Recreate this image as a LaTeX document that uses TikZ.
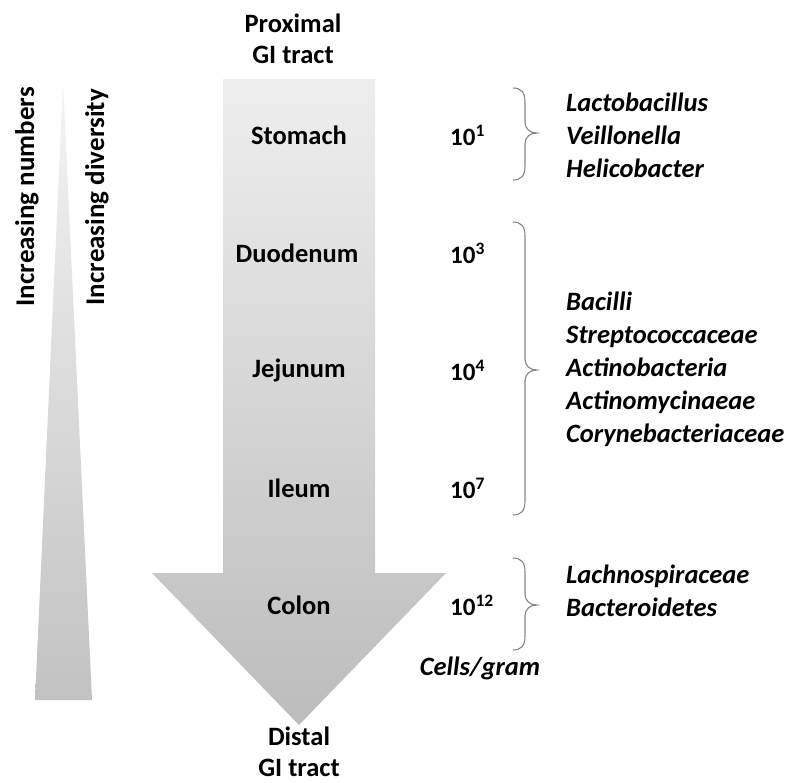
\documentclass[tikz,border=0pt]{standalone}
\usepackage{fontspec}
\setmainfont{Carlito}
\definecolor{arrtop}{HTML}{EEEEEE}
\definecolor{arrbot}{HTML}{BCBCBC}
\definecolor{tritop}{HTML}{F4F4F4}
\definecolor{tribot}{HTML}{C2C2C2}
\definecolor{brcol}{HTML}{858585}
\newcommand\mybrace[3]{%
  \draw[brc] (513,#1) .. controls (521,#1) and (525,#1+4) .. (525,#1+14)
    -- (525,#2-11) .. controls (525,#2-4) and (530,#2) .. (537,#2)
    .. controls (530,#2) and (525,#2+4) .. (525,#2+11)
    -- (525,#3-14) .. controls (525,#3-4) and (521,#3) .. (513,#3);}
\begin{document}
\begin{tikzpicture}[x=1pt,y=-1pt,
  lbl/.style={font=\bfseries\fontsize{26.5}{31}\selectfont, inner sep=0pt, align=center},
  bact/.style={font=\bfseries\itshape\fontsize{26.5}{33}\selectfont, align=left, anchor=west, inner sep=0pt},
  num/.style={font=\bfseries\fontsize{25}{30}\selectfont, anchor=west, inner sep=0pt},
  side/.style={font=\bfseries\fontsize{27}{30}\selectfont, inner sep=0pt, rotate=90, anchor=base east},
  brc/.style={draw=brcol, line width=1.1pt}]
\useasboundingbox (0,0) rectangle (787,782);
% left triangle
\shade[top color=tritop, bottom color=tribot] (63,82) -- (92,700) -- (35,700) -- cycle;
% big arrow
\shade[top color=arrtop, bottom color=arrbot] (223,79) -- (375,79) -- (375,573) -- (446,573) -- (299,725) -- (152,573) -- (223,573) -- cycle;
% side texts
\node[side] (num) at (34,87) {Increasing numbers};
\node[side] (div) at (104,89) {Increasing diversity};
% top / bottom labels
\node[lbl, anchor=north] (prox) at (293,14) {Proximal\\GI tract};
\node[lbl, anchor=south] (dist) at (299,777) {Distal\\GI tract};
% organ labels
\node[lbl] (stom) at (299,135) {Stomach};
\node[lbl] (duod) at (297,253) {Duodenum};
\node[lbl] (jeju) at (299,370) {Jejunum};
\node[lbl] (ileu) at (299,488) {Ileum};
\node[lbl] (colo) at (299,605) {Colon};
% numbers
\node[num] (n1) at (450,135) {10\textsuperscript{1}};
\node[num] (n3) at (450,253) {10\textsuperscript{3}};
\node[num] (n4) at (450,370) {10\textsuperscript{4}};
\node[num] (n7) at (450,488) {10\textsuperscript{7}};
\node[num] (n12) at (450,605) {10\textsuperscript{12}};
\node[lbl, font=\bfseries\itshape\fontsize{26.5}{31}\selectfont] (cells) at (480,668) {Cells/gram};
% braces
\mybrace{88}{133}{180}
\mybrace{222}{370}{515}
\mybrace{558}{605}{650}
% bacteria
\node[bact] (g1) at (566,135) {Lactobacillus\\Veillonella\\Helicobacter};
\node[bact] (g2) at (566,369) {Bacilli\\Streptococcaceae\\Actinobacteria\\Actinomycinaeae\\Corynebacteriaceae};
\node[bact] (g3) at (566,591) {Lachnospiraceae\\Bacteroidetes};
\end{tikzpicture}
\end{document}
